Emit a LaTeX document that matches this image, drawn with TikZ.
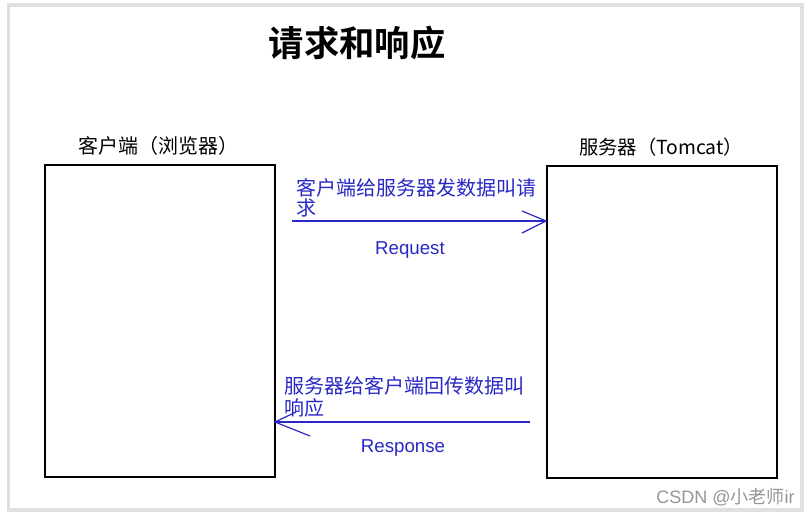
\documentclass[tikz,border=0pt]{standalone}
\usepackage{fontspec}
\setmainfont{Liberation Sans}
\newfontfamily\cjk{Noto Sans CJK SC}
\newfontfamily\cjkb{Noto Sans CJK SC Bold}
\definecolor{txtblue}{RGB}{40,40,200}
\definecolor{wm}{RGB}{150,150,150}
\tikzset{
  box/.style={draw=black, line width=0.9pt},
  arr/.style={draw=txtblue, line width=0.9pt},
  bluetext/.style={text=txtblue, font=\cjk\fontsize{15}{18}\selectfont, inner sep=0pt, anchor=west},
  head/.style={font=\cjk\fontsize{15}{18}\selectfont, inner sep=0pt},
  engl/.style={text=txtblue, font=\fontsize{14}{16}\selectfont, inner sep=0pt}
}
\begin{document}
\begin{tikzpicture}[x=0.75pt,y=-0.75pt]
\useasboundingbox (0,0) rectangle (810,516);
\fill[white] (0,0) rectangle (810,516);
% frame with shadow
\draw[black!12, line width=3pt] (8.5,5.5) rectangle (801.5,509.5);
\fill[white] (10,7) rectangle (800,508);
% title
\node[font=\cjkb\fontsize{26.5}{30}\selectfont, inner sep=0pt] (title) at (357,43) {请求和响应};
% boxes
\draw[box] (45,165) rectangle (275,477);
\draw[box] (547,166) rectangle (777,478);
\node[head] (client) at (158.5,146) {客户端（浏览器）};
\node[head, font=\cjk\fontsize{14.5}{17}\selectfont] (server) at (661,147) {服务器（Tomcat）};
% request
\coordinate (reqS) at (292,221);
\coordinate (reqE) at (546,221);
\draw[arr] (reqS) -- (reqE);
\draw[arr] (522,211) -- (reqE) -- (522,233);
\node[bluetext] (reqt1) at (296,188) {客户端给服务器发数据叫请};
\node[bluetext] (reqt2) at (296,208) {求};
\node[engl] (req) at (410,250) {Request};
% response
\coordinate (resS) at (530,422);
\coordinate (resE) at (275,422);
\draw[arr] (resS) -- (resE);
\draw[arr] (296,412) -- (resE) -- (310,436);
\node[bluetext] (rest1) at (284,386) {服务器给客户端回传数据叫};
\node[bluetext] (rest2) at (284,408) {响应};
\node[engl] (res) at (403,448) {Response};
% watermark
\node[text=wm, font=\fontsize{13.5}{15}\selectfont, inner sep=0pt, anchor=east] (wmk) at (795,497) {CSDN @{\cjk 小老师}ir};
\end{tikzpicture}
\end{document}
